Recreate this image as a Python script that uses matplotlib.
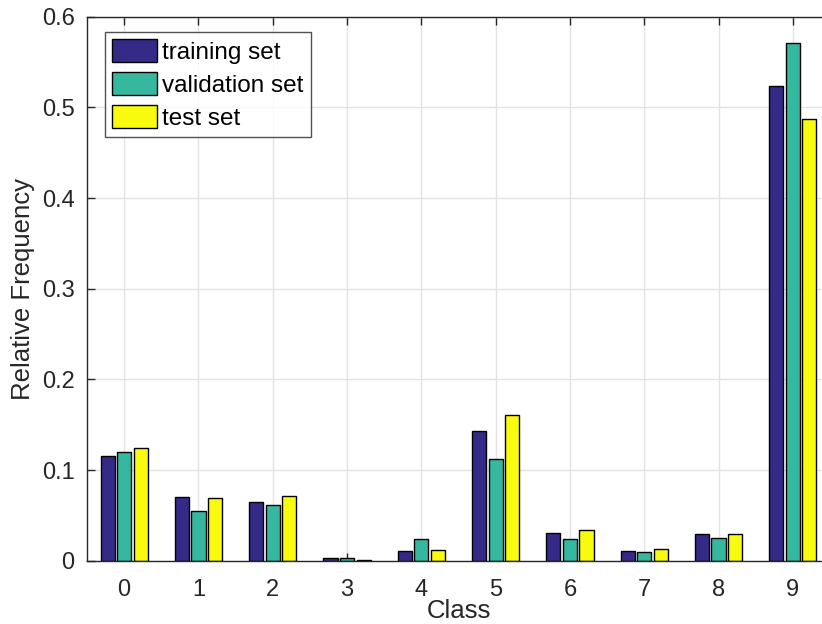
import matplotlib
matplotlib.use("Agg")
import matplotlib.pyplot as plt
import numpy as np

classes = [0, 1, 2, 3, 4, 5, 6, 7, 8, 9]
training = [0.1158, 0.0702, 0.0650, 0.0030, 0.0107, 0.1427, 0.0305, 0.0107, 0.0294, 0.5237]
validation = [0.1195, 0.0545, 0.0614, 0.0035, 0.0236, 0.1118, 0.0236, 0.0092, 0.0247, 0.5710]
test = [0.1240, 0.0690, 0.0713, 0.0008, 0.0114, 0.1610, 0.0335, 0.0129, 0.0290, 0.4877]
series_names = ["training set", "validation set", "test set"]
colors = ["#352a87", "#36b89e", "#f9fb0e"]
yticks = [0, 0.1, 0.2, 0.3, 0.4, 0.5, 0.6]
ytick_labels = ["0", "0.1", "0.2", "0.3", "0.4", "0.5", "0.6"]

plt.rcParams['font.family'] = ['Liberation Sans', 'DejaVu Sans']

fig = plt.figure(figsize=(8.22, 6.24), dpi=100)
ax = fig.add_axes([87/822, (624-560.7)/624, (830-87)/822, (560.7-16.7)/624])

x = np.arange(len(classes))
width = 0.19
offset = 0.223
for i, (vals, name, c) in enumerate(zip([training, validation, test], series_names, colors)):
    ax.bar(x + (i - 1) * offset, vals, width, color=c, edgecolor="black",
           linewidth=1.0, label=name, zorder=3)

ax.set_xlim(-0.5, 9.5)
ax.set_ylim(0, 0.6)
ax.set_xticks(x)
ax.set_xticklabels([str(c) for c in classes])
ax.set_yticks(yticks)
ax.set_yticklabels(ytick_labels)
ax.grid(True, color="#e3e3e3", linewidth=1.0, zorder=0)
ax.set_axisbelow(True)
for s in ax.spines.values():
    s.set_color("#262626")
    s.set_linewidth(1.0)
    s.set_zorder(5)
ax.tick_params(axis="both", direction="in", length=6, width=1.0, colors="#262626",
               labelsize=17, top=True, right=True)
ax.tick_params(axis="x", pad=13)
ax.tick_params(axis="y", pad=9)
ax.set_xlabel("Class", fontsize=18.5, color="#262626", labelpad=-1)
ax.set_ylabel("Relative Frequency", fontsize=18.5, color="#262626", labelpad=5)

leg = ax.legend(loc="upper left", bbox_to_anchor=((105 - 87)/743, 1 - (32 - 16.7)/544),
                fontsize=17.5, frameon=True, fancybox=False, edgecolor="#262626",
                handlelength=1.85, handleheight=1.05, handletextpad=0.2, labelspacing=0.35,
                borderpad=0.3, borderaxespad=0.0)
leg.get_frame().set_linewidth(1.0)

fig.savefig("out.png", dpi=100)
